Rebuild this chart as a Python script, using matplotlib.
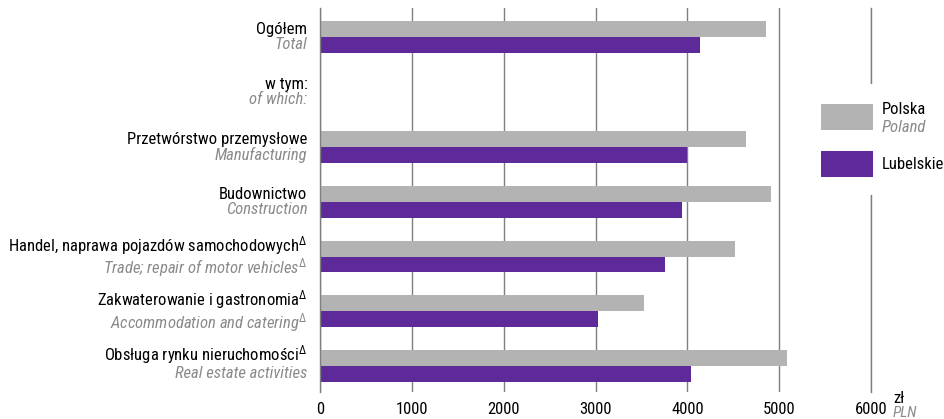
import matplotlib
matplotlib.use('Agg')
import matplotlib.pyplot as plt
from matplotlib.patches import Rectangle
from matplotlib import font_manager

# czcionka: wąska, jeśli jest dostępna
fonts = font_manager.fontManager.ttflist
names = {f.name for f in fonts}
FONT, STRETCH, FS = 'Liberation Sans', 'normal', 10.3
for cand in ['Liberation Sans Narrow', 'Roboto Condensed', 'Open Sans Condensed',
             'Noto Sans Condensed', 'Ubuntu Condensed']:
    if cand in names:
        FONT, FS = cand, 12
        break
else:
    if any(f.name == 'DejaVu Sans' and f.stretch == 'condensed' for f in fonts):
        FONT, STRETCH, FS = 'DejaVu Sans', 'condensed', 10.5

plt.rcParams['font.family'] = [FONT, 'DejaVu Sans']
plt.rcParams['font.stretch'] = STRETCH
plt.rcParams['mathtext.fontset'] = 'custom'
plt.rcParams['mathtext.rm'] = FONT
plt.rcParams['mathtext.it'] = FONT + ':italic'

# dane
labels_pl = ['Ogółem', 'w tym:', 'Przetwórstwo przemysłowe', 'Budownictwo',
             'Handel, naprawa pojazdów samochodowych$^{\\Delta}$',
             'Zakwaterowanie i gastronomia$^{\\Delta}$',
             'Obsługa rynku nieruchomości$^{\\Delta}$']
labels_en = ['Total', 'of which:', 'Manufacturing', 'Construction',
             'Trade; repair of motor vehicles$^{\\Delta}$',
             'Accommodation and catering$^{\\Delta}$',
             'Real estate activities']
polska = [4858, None, 4640, 4913, 4521, 3529, 5090]
lubelskie = [4139, None, 3998, 3943, 3758, 3028, 4045]
ticks = [0, 1000, 2000, 3000, 4000, 5000, 6000]

GRAY = '#b3b3b3'
PURPLE = '#5e2a9a'
TXT_GRAY = '#8a8a8a'

fig = plt.figure(figsize=(9.45, 4.19), dpi=100)
ax = fig.add_axes([320/945, 1-392/419, 551/945, 384/419])

h = 0.29
for i in range(len(labels_pl)):
    if polska[i] is not None:
        ax.barh(i - h/2, polska[i], height=h, color=GRAY, zorder=3)
        ax.barh(i + h/2, lubelskie[i], height=h, color=PURPLE, zorder=3)
    ax.annotate(labels_pl[i], xy=(0, i), xycoords=('axes fraction', 'data'),
                xytext=(-9, 0), textcoords='offset points',
                ha='right', va='bottom', fontsize=FS, color='black')
    ax.annotate(labels_en[i], xy=(0, i), xycoords=('axes fraction', 'data'),
                xytext=(-9, 0), textcoords='offset points',
                ha='right', va='top', fontsize=FS, color=TXT_GRAY, style='italic')

ax.set_xlim(0, 6000)
ax.set_ylim(6.47, -0.53)
ax.set_xticks(ticks)
ax.set_xticklabels([str(t) for t in ticks], fontsize=FS)
ax.set_yticks([])
ax.tick_params(axis='x', length=0, pad=7)
ax.grid(axis='x', color='#7f7f7f', linewidth=1, zorder=0)
for s in ax.spines.values():
    s.set_visible(False)
ax.axvline(0, color='#7f7f7f', linewidth=1, zorder=4, clip_on=False)
ax.axvline(ticks[-1], color='#7f7f7f', linewidth=1, zorder=1, clip_on=False)

# jednostka
fig.text(893/945, 1-406/419, 'zł', fontsize=FS, ha='left', va='bottom')
fig.text(893/945, 1-406/419, 'PLN', fontsize=FS - 1, ha='left', va='top',
         color=TXT_GRAY, style='italic')

# legenda
fig.add_artist(Rectangle((808/945, 1-195/419), 137/945, 111/419, transform=fig.transFigure,
                         facecolor='white', edgecolor='none', zorder=5))
fig.add_artist(Rectangle((821/945, 1-130/419), 52/945, 26/419, transform=fig.transFigure,
                         facecolor=GRAY, edgecolor='none', zorder=6))
fig.add_artist(Rectangle((821/945, 1-177/419), 52/945, 26/419, transform=fig.transFigure,
                         facecolor=PURPLE, edgecolor='none', zorder=6))
fig.text(882/945, 1-110/419, 'Polska', fontsize=FS, ha='left', va='center', zorder=7)
fig.text(882/945, 1-127/419, 'Poland', fontsize=FS, ha='left', va='center',
         color=TXT_GRAY, style='italic', zorder=7)
fig.text(882/945, 1-164/419, 'Lubelskie', fontsize=FS, ha='left', va='center', zorder=7)

fig.savefig('out.png', dpi=100)
